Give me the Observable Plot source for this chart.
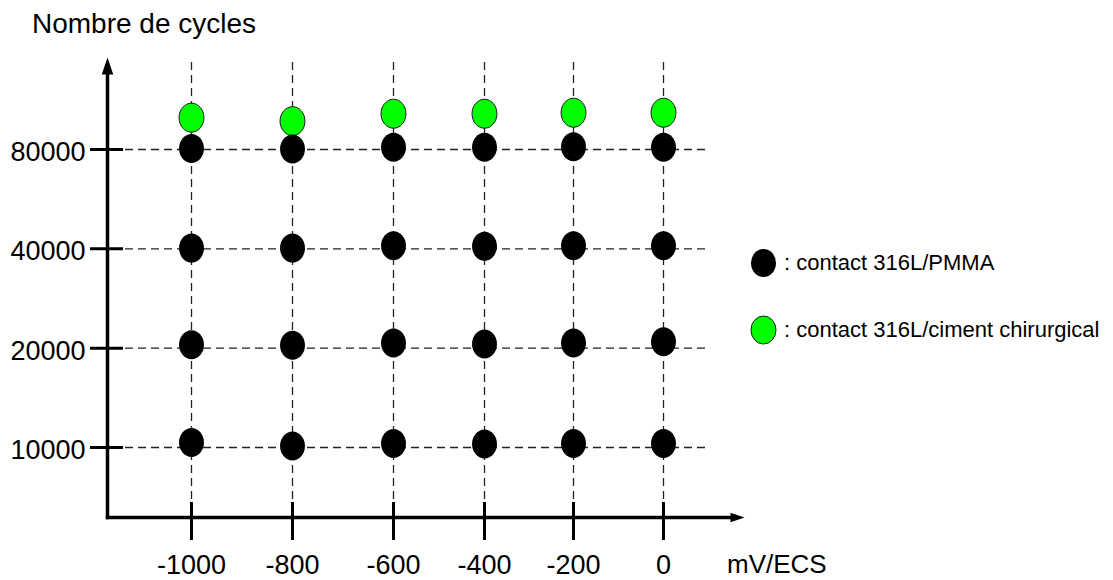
<!DOCTYPE html>
<html>
<head>
<meta charset="utf-8">
<script src="https://cdn.jsdelivr.net/npm/d3@7"></script>
<script src="https://cdn.jsdelivr.net/npm/@observablehq/plot@0.6"></script>
<style>
  html, body { margin: 0; padding: 0; background: #fff; }
  #wrap { position: relative; width: 1113px; height: 580px; overflow: hidden; font-family: "Liberation Sans", Arial, sans-serif; color: #000; }
  #wrap > svg { position: absolute; left: 0; top: 0; }
  .lbl { position: absolute; line-height: 1; white-space: nowrap; }
  .leg { position: absolute; display: flex; align-items: center; height: 30px; font-size: 22px; white-space: nowrap; }
  #wrap .leg svg { position: static; margin-right: 7px; flex: none; }
</style>
</head>
<body>
<div id="wrap"></div>
<script>
// ---- data ----
const potentials = [-1000, -800, -600, -400, -200, 0];      // mV/ECS
const cycleTicks = [10000, 20000, 40000, 80000];            // y tick labels
const pmmaAt10000 = [10350, 10100, 10280, 10240, 10280, 10280];
const pmmaAt20000 = [20500, 20400, 20750, 20600, 20750, 20900];
const pmmaAt40000 = [40200, 40200, 40900, 40700, 40900, 40900];
const pmmaAt80000 = [80500, 80300, 81300, 81300, 81600, 81300];
const cimentCycles = [99900, 97500, 102700, 102700, 103400, 103400];
const seriesNames = ["contact 316L/PMMA", "contact 316L/ciment chirurgical"];
const seriesColors = ["#000000", "#00ff00"];
const yTitle = "Nombre de cycles";
const xTitle = "mV/ECS";

// ---- tables built from the arrays ----
const pmmaRows = [pmmaAt10000, pmmaAt20000, pmmaAt40000, pmmaAt80000]
  .flatMap(row => row.map((c, i) => ({potential: potentials[i], cycles: c})));
const cimentRows = cimentCycles.map((c, i) => ({potential: potentials[i], cycles: c}));

// ---- custom symbols ----
const ellipseSym = {
  draw(ctx, size) {
    const r = Math.sqrt(size / Math.PI), rx = r * 0.86, ry = r, k = 0.5523;
    ctx.moveTo(rx, 0);
    ctx.bezierCurveTo(rx, ry * k, rx * k, ry, 0, ry);
    ctx.bezierCurveTo(-rx * k, ry, -rx, ry * k, -rx, 0);
    ctx.bezierCurveTo(-rx, -ry * k, -rx * k, -ry, 0, -ry);
    ctx.bezierCurveTo(rx * k, -ry, rx, -ry * k, rx, 0);
    ctx.closePath();
  }
};
const arrowSym = {
  draw(ctx, size) {
    const r = Math.sqrt(size / Math.PI);
    ctx.moveTo(0, -r);
    ctx.lineTo(r * 0.36, 1);
    ctx.lineTo(-r * 0.36, 1);
    ctx.closePath();
  }
};

const gridStyle = {stroke: "#222", strokeWidth: 1.3, strokeDasharray: "8,5"};

const chart = Plot.plot({
  width: 1113,
  height: 580,
  marginLeft: 107,
  marginRight: 382,
  marginTop: 73,
  marginBottom: 63,
  style: {fontFamily: "'Liberation Sans', Arial, sans-serif", color: "#000", background: "transparent", overflow: "visible"},
  x: {type: "linear", domain: potentials, range: [191, 292, 393, 484, 573, 663], label: null},
  y: {type: "log", base: 2, domain: [10000, 80000], range: [447, 149], label: null, axis: null},
  marks: [
    Plot.ruleY(cycleTicks, {insetLeft: 18, insetRight: 25, ...gridStyle}),
    Plot.ruleX(potentials, {insetTop: -11, insetBottom: 17, ...gridStyle}),
    Plot.frame({anchor: "left", stroke: "#000", strokeWidth: 3.5}),
    Plot.frame({anchor: "bottom", stroke: "#000", strokeWidth: 3.5}),
    Plot.ruleY(cycleTicks, {insetLeft: -17, insetRight: 608, stroke: "#000", strokeWidth: 3}),
    Plot.ruleX(potentials, {insetTop: 429, insetBottom: -23, stroke: "#000", strokeWidth: 3}),
    Plot.dot([0], {frameAnchor: "top-left", symbol: arrowSym, r: 16, fill: "#000", stroke: "none"}),
    Plot.dot([0], {frameAnchor: "bottom-right", symbol: arrowSym, r: 13, rotate: 90, fill: "#000", stroke: "none"}),
    Plot.axisX(potentials, {tickSize: 0, tickPadding: 37, fontSize: 27, tickFormat: d => String(d)}),
    Plot.text(cycleTicks, {y: d => d, text: d => String(d), frameAnchor: "left", textAnchor: "end", dx: -22, dy: 3, fontSize: 27, fill: "#000"}),
    Plot.dot(cimentRows, {x: "potential", y: "cycles", symbol: ellipseSym, r: 14.5, fill: seriesColors[1], stroke: "#1a1a1a", strokeWidth: 1}),
    Plot.dot(pmmaRows, {x: "potential", y: "cycles", symbol: ellipseSym, r: 14.5, fill: seriesColors[0], stroke: "none"})
  ]
});

const wrap = document.getElementById("wrap");
wrap.appendChild(chart);

function addLabel(text, left, top, size) {
  const d = document.createElement("div");
  d.className = "lbl";
  d.textContent = text;
  d.style.left = left + "px";
  d.style.top = top + "px";
  d.style.fontSize = size + "px";
  wrap.appendChild(d);
}
addLabel(yTitle, 32, 10, 28);
addLabel(xTitle, 727, 551, 26);

seriesNames.forEach((name, i) => {
  const row = document.createElement("div");
  row.className = "leg";
  row.style.left = "750px";
  row.style.top = (i === 0 ? 248 : 315) + "px";
  const ns = "http://www.w3.org/2000/svg";
  const s = document.createElementNS(ns, "svg");
  s.setAttribute("width", 27); s.setAttribute("height", 30);
  const e = document.createElementNS(ns, "ellipse");
  e.setAttribute("cx", 13.5); e.setAttribute("cy", 15);
  e.setAttribute("rx", 12.5); e.setAttribute("ry", 14);
  e.setAttribute("fill", seriesColors[i]);
  if (i === 1) { e.setAttribute("stroke", "#1a1a1a"); e.setAttribute("stroke-width", 1); }
  s.appendChild(e);
  row.appendChild(s);
  const t = document.createElement("span");
  t.textContent = ": " + name;
  row.appendChild(t);
  wrap.appendChild(row);
});
</script>
</body>
</html>
